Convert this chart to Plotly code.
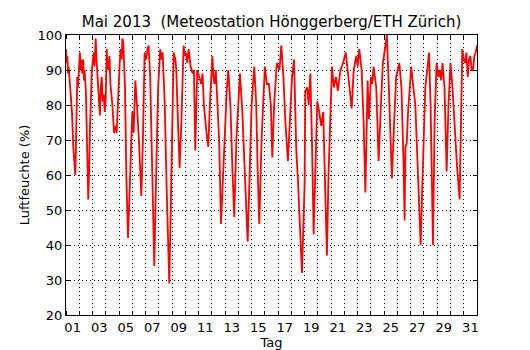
import plotly.graph_objects as go

# time in days since 1 May 2013 00:00, relative humidity in %
tag = [0.0, 0.05, 0.1, 0.15, 0.2, 0.3, 0.38, 0.45, 0.55, 0.62, 0.7, 0.74, 0.78, 0.85, 0.9, 0.95,
       1.0, 1.05, 1.1, 1.15, 1.22, 1.3, 1.36, 1.4, 1.5, 1.6, 1.68, 1.75, 1.8, 1.95, 2.02, 2.09,
       2.15, 2.24, 2.3, 2.35, 2.4, 2.45, 2.5, 2.56, 2.62, 2.7, 2.76, 2.85, 2.92, 2.99, 3.07, 3.13,
       3.2, 3.28, 3.35, 3.5, 3.62, 3.72, 3.82, 3.95, 4.05, 4.12, 4.2, 4.25, 4.32, 4.45, 4.55, 4.68,
       4.8, 4.88, 5.0, 5.1, 5.23, 5.35, 5.5, 5.68, 5.8, 5.93, 6.05, 6.15, 6.23, 6.35, 6.5, 6.66,
       6.8, 6.95, 7.11, 7.2, 7.29, 7.45, 7.6, 7.79, 7.9, 8.0, 8.12, 8.25, 8.32, 8.4, 8.57, 8.7,
       8.87, 8.95, 9.05, 9.15, 9.25, 9.4, 9.55, 9.65, 9.75, 9.9, 10.05, 10.2, 10.3, 10.4, 10.6, 10.73,
       10.85, 11.04, 11.12, 11.2, 11.3, 11.4, 11.55, 11.69, 11.85, 12.0, 12.12, 12.24, 12.4, 12.55, 12.69, 12.85,
       13.0, 13.12, 13.3, 13.5, 13.7, 13.85, 14.0, 14.2, 14.35, 14.45, 14.58, 14.75, 14.9, 15.0, 15.15, 15.3,
       15.45, 15.56, 15.7, 15.9, 16.1, 16.24, 16.4, 16.55, 16.74, 16.9, 17.05, 17.2, 17.3, 17.37, 17.5, 17.65,
       17.72, 17.8, 17.9, 18.0, 18.05, 18.2, 18.3, 18.43, 18.55, 18.68, 18.8, 18.95, 19.1, 19.25, 19.4, 19.55,
       19.68, 19.8, 19.95, 20.06, 20.2, 20.36, 20.5, 20.7, 20.9, 21.1, 21.3, 21.55, 21.7, 21.9, 22.0, 22.12,
       22.3, 22.45, 22.58, 22.7, 22.75, 22.85, 23.0, 23.1, 23.2, 23.4, 23.58, 23.75, 23.9, 24.1, 24.2, 24.35,
       24.58, 24.75, 24.9, 25.14, 25.3, 25.45, 25.54, 25.6, 25.7, 25.8, 26.04, 26.2, 26.35, 26.55, 26.75, 26.9,
       27.1, 27.25, 27.38, 27.5, 27.68, 27.8, 27.95, 28.1, 28.2, 28.3, 28.4, 28.55, 28.71, 28.85, 29.0, 29.15,
       29.35, 29.5, 29.69, 29.8, 29.89, 30.0, 30.1, 30.2, 30.3, 30.4, 30.5, 30.6, 30.7, 30.8, 30.9, 31.0]
feuchte = [96, 92, 94, 89, 91, 86, 82, 78, 68, 64, 60, 66, 72, 88, 85, 88,
           94, 95, 90, 93, 89, 93, 87, 90, 84, 70, 53, 62, 72, 90, 94, 95,
           91, 99, 93, 90, 86, 85, 80, 77, 85, 88, 81, 83, 78, 81, 96, 91,
           90, 94, 86, 80, 72, 74, 72, 85, 92, 96, 93, 99, 98, 85, 60, 42,
           55, 65, 78, 72, 87, 80, 70, 54, 70, 95, 93, 96, 97, 88, 60, 34,
           60, 85, 96, 93, 95, 80, 55, 29, 50, 70, 95, 93, 90, 80, 62, 75,
           97, 94, 95, 92, 96, 91, 89, 90, 67, 90, 88, 86, 89, 80, 72, 68,
           80, 94, 88, 86, 90, 82, 70, 46, 60, 78, 84, 90, 80, 62, 48, 70,
           82, 89, 78, 60, 41, 60, 80, 91, 80, 62, 46, 70, 84, 91, 86, 86,
           80, 65, 80, 92, 90, 97, 88, 75, 64, 75, 88, 93, 80, 67, 58, 45,
           38, 32, 45, 58, 84, 85, 80, 89, 70, 43, 60, 81, 78, 74, 78, 55,
           37, 60, 82, 91, 85, 88, 84, 90, 92, 95, 88, 79, 90, 94, 91, 96,
           90, 75, 55, 80, 87, 76, 88, 86, 91, 85, 64, 80, 92, 97, 100, 85,
           59, 75, 88, 92, 85, 65, 47, 68, 69, 78, 91, 85, 80, 60, 40, 60,
           85, 90, 95, 80, 40, 75, 92, 88, 90, 87, 92, 85, 61, 80, 92, 85,
           70, 62, 53, 80, 96, 93, 92, 95, 88, 93, 94, 90, 90, 94, 95, 97]

tick_pos = [0.5 + 2 * i for i in range(16)]
tick_text = ["%02d" % (1 + 2 * i) for i in range(16)]

font = "DejaVu Sans, Liberation Sans, sans-serif"
grid_dash = "1px,3px"

# the page body adds an 8px offset; size the figure so it fits the 530x350 window
W, H = 522, 342

fig = go.Figure()
fig.add_trace(go.Scatter(x=tag, y=feuchte, mode="lines",
                         line=dict(color="#ff0000", width=1.8), showlegend=False))

fig.update_layout(
    width=W, height=H,
    margin=dict(l=58, r=53, t=27, b=35, autoexpand=False),
    paper_bgcolor="white", plot_bgcolor="white",
    font=dict(family=font, size=13, color="black"),
    title=dict(text="Mai 2013 \u00a0(Meteostation Hönggerberg/ETH Zürich)",
               x=0.5, xref="paper", xanchor="center",
               y=1 - 14 / H, yref="container", yanchor="middle",
               font=dict(size=15, family=font, color="black")),
)
fig.update_xaxes(
    range=[0, 31], tickmode="array", tickvals=tick_pos, ticktext=tick_text,
    ticks="", showgrid=False, zeroline=False, automargin=False,
    showline=True, linecolor="black", linewidth=1, mirror="ticks",
    tickfont=dict(size=13),
    minor=dict(tickmode="linear", tick0=0, dtick=1, ticks="inside", ticklen=4,
               tickcolor="black", showgrid=True, gridcolor="black",
               griddash=grid_dash, gridwidth=1),
    title=dict(text="Tag", font=dict(size=13), standoff=0),
)
fig.update_yaxes(
    range=[20, 100], dtick=10, ticks="inside", ticklen=4, tickcolor="black",
    showgrid=True, gridcolor="black", griddash=grid_dash, gridwidth=1,
    zeroline=False, showline=True, linecolor="black", linewidth=1, mirror="ticks",
    automargin=False, tickfont=dict(size=13),
    title=dict(text="Luftfeuchte (%)", font=dict(size=13), standoff=5),
)

fig.write_html("out.html")
